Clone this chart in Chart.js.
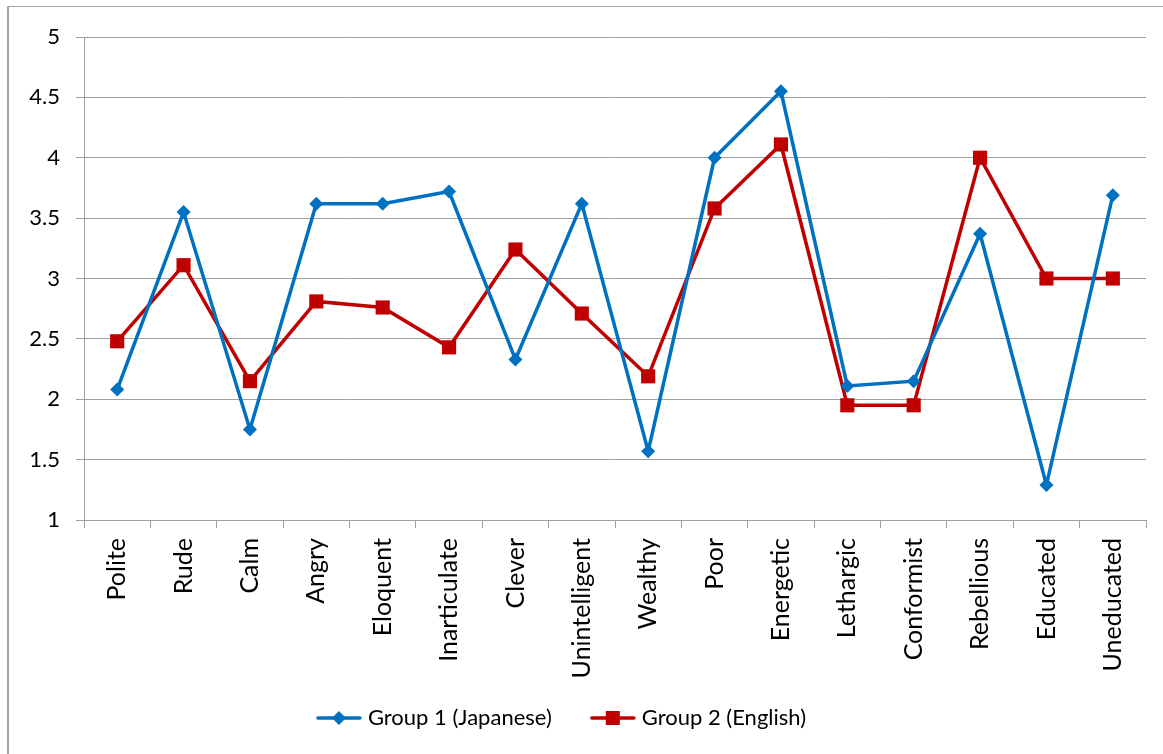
<!DOCTYPE html>
<html>
<head>
<meta charset="utf-8">
<script src="https://cdn.jsdelivr.net/npm/chart.js@4.4.0/dist/chart.umd.min.js"></script>
<style>
  html, body { margin: 0; padding: 0; background: #fff; overflow: hidden; }
  #frame {
    position: absolute; left: 7px; top: 6px;
    width: 1160px; height: 760px;
    border-left: 2px solid #a6a6a6;
    border-top: 1px solid #a6a6a6;
  }
  #chart { display: block; }
</style>
</head>
<body>
<div id="frame"><canvas id="chart" width="1148" height="747"></canvas></div>
<script>
  // data
  const categories = ["Polite", "Rude", "Calm", "Angry", "Eloquent", "Inarticulate", "Clever", "Unintelligent",
    "Wealthy", "Poor", "Energetic", "Lethargic", "Conformist", "Rebellious", "Educated", "Uneducated"];
  const group1 = [2.08, 3.55, 1.75, 3.62, 3.62, 3.72, 2.33, 3.62, 1.57, 4.0, 4.55, 2.11, 2.15, 3.37, 1.29, 3.69];
  const group2 = [2.48, 3.11, 2.15, 2.81, 2.76, 2.43, 3.24, 2.71, 2.19, 3.58, 4.11, 1.95, 1.95, 4.0, 3.0, 3.0];
  const seriesNames = ["Group 1 (Japanese)", "Group 2 (English)"];
  const yTicks = [1, 1.5, 2, 2.5, 3, 3.5, 4, 4.5, 5];

  const BLUE = '#0070C0';
  const RED = '#C00000';
  const GRID = '#a0a0a0';
  const FONT = 'Lato';

  // legend swatch: line with marker, drawn at the right of a wider canvas
  function legendSwatch(color, shape) {
    const c = document.createElement('canvas');
    c.width = 84; c.height = 18;
    const g = c.getContext('2d');
    g.strokeStyle = color;
    g.lineWidth = 3.5;
    g.lineCap = 'round';
    g.beginPath(); g.moveTo(40, 9); g.lineTo(82, 9); g.stroke();
    g.fillStyle = color;
    if (shape === 'diamond') {
      g.beginPath(); g.moveTo(61, 2); g.lineTo(68, 9); g.lineTo(61, 16); g.lineTo(54, 9); g.closePath(); g.fill();
    } else {
      g.fillRect(54, 2, 14, 14);
    }
    return c;
  }
  const swatches = [legendSwatch(BLUE, 'diamond'), legendSwatch(RED, 'square')];

  // put the legend where the original has it
  const legendPlace = {
    id: 'legendPlace',
    afterLayout(chart) {
      const lg = chart.legend;
      const h = lg.bottom - lg.top;
      lg.top = 695; lg.bottom = lg.top + h;
      lg.left -= 33; lg.right -= 33;
    }
  };

  const ctx = document.getElementById('chart').getContext('2d');
  new Chart(ctx, {
    type: 'line',
    data: {
      labels: categories,
      datasets: [{
        label: seriesNames[0],
        data: group1,
        borderColor: BLUE,
        backgroundColor: BLUE,
        borderWidth: 3.5,
        pointStyle: 'rectRot',
        pointRadius: 7,
        pointBorderWidth: 0,
        tension: 0
      }, {
        label: seriesNames[1],
        data: group2,
        borderColor: RED,
        backgroundColor: RED,
        borderWidth: 3.5,
        pointStyle: 'rect',
        pointRadius: 10,
        pointBorderWidth: 0,
        tension: 0
      }]
    },
    options: {
      responsive: false,
      animation: false,
      layout: { padding: { top: 30, right: 11, left: 0, bottom: 0 } },
      plugins: {
        legend: {
          position: 'bottom',
          labels: {
            usePointStyle: true,
            pointStyleWidth: 74,
            color: '#000',
            font: { family: FONT, size: 22 },
            padding: 5,
            generateLabels(chart) {
              return chart.data.datasets.map((ds, i) => ({
                text: ds.label,
                pointStyle: swatches[i],
                fillStyle: ds.borderColor,
                strokeStyle: ds.borderColor,
                lineWidth: 0,
                fontColor: '#000',
                datasetIndex: i,
                hidden: false
              }));
            }
          }
        },
        tooltip: { enabled: false }
      },
      scales: {
        x: {
          offset: true,
          grid: { display: true, offset: true, drawOnChartArea: false, drawTicks: true, tickLength: 8, color: GRID },
          border: { color: GRID, width: 1 },
          ticks: {
            color: '#000',
            font: { family: FONT, size: 25 },
            maxRotation: 90, minRotation: 90,
            padding: 10,
            autoSkip: false
          },
          // keep the plot bottom at the same place as the original
          afterFit(scale) {
            const lg = scale.chart.legend;
            scale.height = scale.chart.height - 513 - (lg ? lg.height : 0);
          }
        },
        y: {
          min: 1, max: 5,
          afterBuildTicks(scale) { scale.ticks = yTicks.map(v => ({ value: v })); },
          grid: { color: GRID, tickLength: 8, lineWidth: 1 },
          border: { color: GRID, width: 1 },
          ticks: {
            color: '#000',
            font: { family: FONT, size: 22 },
            padding: 16,
            callback: v => String(v)
          },
          afterFit(scale) { scale.width = 75; }
        }
      }
    },
    plugins: [legendPlace]
  });
</script>
</body>
</html>
